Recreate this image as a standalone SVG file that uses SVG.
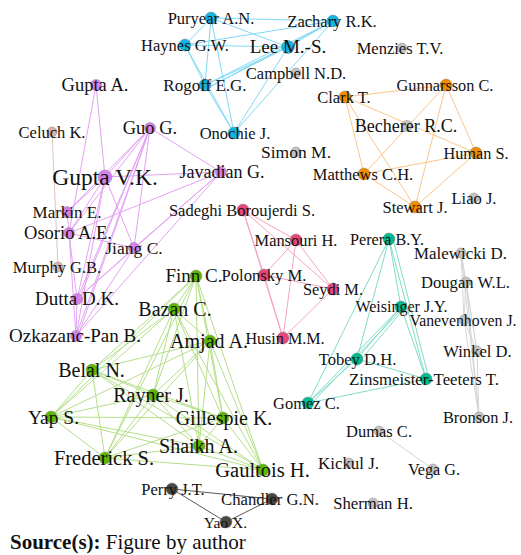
<svg xmlns="http://www.w3.org/2000/svg" width="521" height="555" viewBox="0 0 521 555">
<style>
text{font-family:"Liberation Serif","Times New Roman","DejaVu Serif",serif;fill:#111;text-anchor:middle}
.n circle{stroke:#8a8a8a;stroke-width:0.5}
.blue circle{fill:#12b4e3}.orange circle{fill:#f28a00}.purple circle{fill:#d680ea}.brown circle{fill:#d9b3ab}
.red circle{fill:#e8477e}.green circle{fill:#5cb800}.teal circle{fill:#00b990}.gray circle{fill:#c4c4c4}.dark circle{fill:#4b4742}
#edges line{stroke-width:1}
.eb line{stroke:#80d9f4}.eo line{stroke:#fcc68a}.ep line{stroke:#e3a2f3}.ebr line{stroke:#dcc4bf}.er line{stroke:#f6a3bf}
.eg line{stroke:#b4df88}.et line{stroke:#80dcc8}.egr line{stroke:#d6d6d6}.ed line{stroke:#5a5a5a}
</style>
<rect width="521" height="555" fill="#fff"/>
<g id="edges">
<g class="eb">
<line x1="211" y1="18" x2="185" y2="45"/><line x1="211" y1="18" x2="288" y2="47"/><line x1="211" y1="18" x2="333" y2="21"/><line x1="211" y1="18" x2="205" y2="85"/><line x1="211" y1="18" x2="234" y2="133"/>
<line x1="185" y1="45" x2="288" y2="47"/><line x1="185" y1="45" x2="333" y2="21"/><line x1="185" y1="45" x2="205" y2="85"/><line x1="185" y1="45" x2="234" y2="133"/>
<line x1="288" y1="47" x2="333" y2="21"/><line x1="288" y1="47" x2="205" y2="85"/><line x1="288" y1="47" x2="234" y2="133"/>
<line x1="333" y1="21" x2="205" y2="85"/><line x1="333" y1="21" x2="234" y2="133"/><line x1="205" y1="85" x2="234" y2="133"/>
<line x1="288" y1="47" x2="207" y2="88"/><line x1="333" y1="21" x2="208" y2="88"/>
</g>
<g class="eo">
<line x1="345" y1="97" x2="446" y2="85"/><line x1="345" y1="97" x2="476" y2="153"/><line x1="345" y1="97" x2="364" y2="174"/><line x1="345" y1="97" x2="415" y2="207"/>
<line x1="446" y1="85" x2="476" y2="153"/><line x1="446" y1="85" x2="364" y2="174"/><line x1="446" y1="85" x2="415" y2="207"/>
<line x1="476" y1="153" x2="364" y2="174"/><line x1="476" y1="153" x2="415" y2="207"/><line x1="364" y1="174" x2="415" y2="207"/>
</g>
<g class="ep">
<line x1="96" y1="85" x2="105" y2="177"/><line x1="96" y1="85" x2="69" y2="233"/>
<line x1="105" y1="177" x2="150" y2="128"/><line x1="105" y1="177" x2="221" y2="172"/><line x1="105" y1="177" x2="67" y2="212"/><line x1="105" y1="177" x2="69" y2="233"/><line x1="105" y1="177" x2="134" y2="248"/><line x1="105" y1="177" x2="77" y2="299"/><line x1="105" y1="177" x2="76" y2="336"/>
<line x1="150" y1="128" x2="221" y2="172"/><line x1="150" y1="128" x2="67" y2="212"/><line x1="150" y1="128" x2="69" y2="233"/><line x1="150" y1="128" x2="134" y2="248"/><line x1="150" y1="128" x2="77" y2="299"/><line x1="150" y1="128" x2="76" y2="336"/>
<line x1="221" y1="172" x2="69" y2="233"/><line x1="221" y1="172" x2="134" y2="248"/><line x1="221" y1="172" x2="77" y2="299"/><line x1="221" y1="172" x2="76" y2="336"/>
<line x1="134" y1="248" x2="69" y2="233"/><line x1="134" y1="248" x2="77" y2="299"/><line x1="134" y1="248" x2="76" y2="336"/>
<line x1="69" y1="233" x2="77" y2="299"/><line x1="69" y1="233" x2="76" y2="336"/><line x1="77" y1="299" x2="76" y2="336"/><line x1="67" y1="212" x2="69" y2="233"/>
<line x1="150" y1="128" x2="79" y2="299"/><line x1="150" y1="128" x2="78" y2="336"/>
</g>
<g class="ebr"><line x1="52" y1="132" x2="58" y2="267"/></g>
<g class="er">
<line x1="243" y1="210" x2="296" y2="240"/><line x1="243" y1="210" x2="264" y2="275"/><line x1="243" y1="210" x2="333" y2="289"/><line x1="243" y1="210" x2="283" y2="338"/>
<line x1="296" y1="240" x2="264" y2="275"/><line x1="296" y1="240" x2="333" y2="289"/><line x1="296" y1="240" x2="283" y2="338"/>
<line x1="264" y1="275" x2="333" y2="289"/><line x1="264" y1="275" x2="283" y2="338"/><line x1="333" y1="289" x2="283" y2="338"/>
</g>
<g class="et">
<line x1="389" y1="239" x2="401" y2="307"/><line x1="389" y1="239" x2="357" y2="359"/><line x1="389" y1="239" x2="426" y2="379"/><line x1="389" y1="239" x2="308" y2="403"/>
<line x1="401" y1="307" x2="357" y2="359"/><line x1="401" y1="307" x2="426" y2="379"/><line x1="401" y1="307" x2="308" y2="403"/>
<line x1="357" y1="359" x2="426" y2="379"/><line x1="357" y1="359" x2="308" y2="403"/><line x1="426" y1="379" x2="308" y2="403"/>
<line x1="393" y1="239" x2="429" y2="379"/><line x1="403" y1="310" x2="359" y2="362"/><line x1="401" y1="310" x2="310" y2="405"/>
</g>
<g class="eg">
<line x1="196" y1="276" x2="174" y2="309"/><line x1="196" y1="276" x2="210" y2="341"/><line x1="196" y1="276" x2="92" y2="370"/><line x1="196" y1="276" x2="153" y2="395"/><line x1="196" y1="276" x2="51" y2="417"/><line x1="196" y1="276" x2="223" y2="418"/><line x1="196" y1="276" x2="199" y2="446"/><line x1="196" y1="276" x2="105" y2="458"/><line x1="196" y1="276" x2="263" y2="470"/>
<line x1="174" y1="309" x2="210" y2="341"/><line x1="174" y1="309" x2="92" y2="370"/><line x1="174" y1="309" x2="153" y2="395"/><line x1="174" y1="309" x2="51" y2="417"/><line x1="174" y1="309" x2="223" y2="418"/><line x1="174" y1="309" x2="199" y2="446"/><line x1="174" y1="309" x2="105" y2="458"/><line x1="174" y1="309" x2="263" y2="470"/>
<line x1="210" y1="341" x2="92" y2="370"/><line x1="210" y1="341" x2="153" y2="395"/><line x1="210" y1="341" x2="51" y2="417"/><line x1="210" y1="341" x2="223" y2="418"/><line x1="210" y1="341" x2="199" y2="446"/><line x1="210" y1="341" x2="105" y2="458"/><line x1="210" y1="341" x2="263" y2="470"/>
<line x1="92" y1="370" x2="153" y2="395"/><line x1="92" y1="370" x2="51" y2="417"/><line x1="92" y1="370" x2="223" y2="418"/><line x1="92" y1="370" x2="199" y2="446"/><line x1="92" y1="370" x2="105" y2="458"/><line x1="92" y1="370" x2="263" y2="470"/>
<line x1="153" y1="395" x2="51" y2="417"/><line x1="153" y1="395" x2="223" y2="418"/><line x1="153" y1="395" x2="199" y2="446"/><line x1="153" y1="395" x2="105" y2="458"/><line x1="153" y1="395" x2="263" y2="470"/>
<line x1="51" y1="417" x2="223" y2="418"/><line x1="51" y1="417" x2="199" y2="446"/><line x1="51" y1="417" x2="105" y2="458"/><line x1="51" y1="417" x2="263" y2="470"/>
<line x1="223" y1="418" x2="199" y2="446"/><line x1="223" y1="418" x2="105" y2="458"/><line x1="223" y1="418" x2="263" y2="470"/>
<line x1="199" y1="446" x2="105" y2="458"/><line x1="199" y1="446" x2="263" y2="470"/><line x1="105" y1="458" x2="263" y2="470"/>
</g>
<g class="egr">
<line x1="461" y1="253" x2="466" y2="282"/><line x1="461" y1="253" x2="464" y2="320"/><line x1="461" y1="253" x2="477" y2="351"/><line x1="461" y1="253" x2="479" y2="417"/>
<line x1="466" y1="282" x2="464" y2="320"/><line x1="466" y1="282" x2="477" y2="351"/><line x1="466" y1="282" x2="479" y2="417"/>
<line x1="464" y1="320" x2="477" y2="351"/><line x1="464" y1="320" x2="479" y2="417"/><line x1="477" y1="351" x2="479" y2="417"/>
<line x1="379" y1="431" x2="433" y2="469"/>
</g>
<g class="ed">
<line x1="172" y1="489" x2="272" y2="499"/><line x1="172" y1="489" x2="226" y2="522"/><line x1="272" y1="499" x2="226" y2="522"/>
</g>
</g>
<g id="n-puryear" class="n blue"><circle cx="211" cy="18" r="6"/><text x="211" y="23.5" font-size="16.5">Puryear A.N.</text></g>
<g id="n-haynes" class="n blue"><circle cx="185" cy="45" r="6"/><text x="185" y="50.5" font-size="16.5">Haynes G.W.</text></g>
<g id="n-lee" class="n blue"><circle cx="288" cy="47" r="6.5"/><text x="288" y="53" font-size="19">Lee M.-S.</text></g>
<g id="n-zachary" class="n blue"><circle cx="333" cy="21" r="6"/><text x="332" y="26.5" font-size="16.5">Zachary R.K.</text></g>
<g id="n-rogoff" class="n blue"><circle cx="205" cy="85" r="6"/><text x="205" y="90.5" font-size="17">Rogoff E.G.</text></g>
<g id="n-onochie" class="n blue"><circle cx="234" cy="133" r="6"/><text x="235" y="138.5" font-size="16.5">Onochie J.</text></g>
<g id="n-campbell" class="n gray"><circle cx="296" cy="73" r="5"/><text x="296" y="78.5" font-size="16.5">Campbell N.D.</text></g>
<g id="n-menzies" class="n gray"><circle cx="402" cy="48" r="5"/><text x="400" y="53.5" font-size="16.5">Menzies T.V.</text></g>
<g id="n-clark" class="n orange"><circle cx="345" cy="97" r="6"/><text x="344" y="102.5" font-size="16.5">Clark T.</text></g>
<g id="n-gunnarsson" class="n orange"><circle cx="446" cy="85" r="6"/><text x="445" y="90.5" font-size="16.3">Gunnarsson C.</text></g>
<g id="n-becherer" class="n gray"><circle cx="407" cy="126" r="5.5"/><text x="406" y="132" font-size="18">Becherer R.C.</text></g>
<g id="n-human" class="n orange"><circle cx="476" cy="153" r="6"/><text x="476" y="158.5" font-size="16.3">Human S.</text></g>
<g id="n-matthews" class="n orange"><circle cx="364" cy="174" r="6"/><text x="363" y="179.5" font-size="16.5">Matthews C.H.</text></g>
<g id="n-stewart" class="n orange"><circle cx="415" cy="207" r="6"/><text x="415" y="212.5" font-size="16.5">Stewart J.</text></g>
<g id="n-liao" class="n gray"><circle cx="474" cy="198" r="5"/><text x="474" y="203.5" font-size="16.5">Liao J.</text></g>
<g id="n-simon" class="n gray"><circle cx="296" cy="152" r="5"/><text x="296" y="158" font-size="17.5">Simon M.</text></g>
<g id="n-guptaa" class="n purple"><circle cx="96" cy="85" r="5.5"/><text x="95" y="91" font-size="18.5">Gupta A.</text></g>
<g id="n-celuch" class="n brown"><circle cx="52" cy="132" r="5"/><text x="52" y="137.5" font-size="16.5">Celuch K.</text></g>
<g id="n-guo" class="n purple"><circle cx="150" cy="128" r="5.5"/><text x="150" y="134" font-size="18.5">Guo G.</text></g>
<g id="n-guptavk" class="n purple"><circle cx="105" cy="177" r="7"/><text x="105" y="184.5" font-size="23.5">Gupta V.K.</text></g>
<g id="n-javadian" class="n purple"><circle cx="221" cy="172" r="5.5"/><text x="222" y="178" font-size="18">Javadian G.</text></g>
<g id="n-markin" class="n purple"><circle cx="67" cy="212" r="5.5"/><text x="67" y="217.5" font-size="17">Markin E.</text></g>
<g id="n-osorio" class="n purple"><circle cx="69" cy="233" r="5.5"/><text x="68" y="239" font-size="18.5">Osorio A.E.</text></g>
<g id="n-jiang" class="n purple"><circle cx="134" cy="248" r="5.5"/><text x="134" y="254" font-size="17.5">Jiang C.</text></g>
<g id="n-murphy" class="n brown"><circle cx="58" cy="267" r="5"/><text x="57" y="272.5" font-size="16.5">Murphy G.B.</text></g>
<g id="n-dutta" class="n purple"><circle cx="77" cy="299" r="5.5"/><text x="77" y="305" font-size="19">Dutta D.K.</text></g>
<g id="n-ozkazanc" class="n purple"><circle cx="76" cy="336" r="5.5"/><text x="75" y="342" font-size="19">Ozkazanc-Pan B.</text></g>
<g id="n-sadeghi" class="n red"><circle cx="243" cy="210" r="6"/><text x="242" y="215.5" font-size="16.5">Sadeghi Boroujerdi S.</text></g>
<g id="n-mansouri" class="n red"><circle cx="296" cy="240" r="6"/><text x="296" y="245.5" font-size="16.4">Mansouri H.</text></g>
<g id="n-polonsky" class="n red"><circle cx="264" cy="275" r="6"/><text x="264" y="280.5" font-size="16.6">Polonsky M.</text></g>
<g id="n-seydi" class="n red"><circle cx="333" cy="289" r="6"/><text x="333" y="294.5" font-size="16.4">Seydi M.</text></g>
<g id="n-husin" class="n red"><circle cx="283" cy="338" r="6"/><text x="285" y="343.5" font-size="16.1">Husin M.M.</text></g>
<g id="n-finn" class="n green"><circle cx="196" cy="276" r="6"/><text x="194" y="282" font-size="19">Finn C.</text></g>
<g id="n-bazan" class="n green"><circle cx="174" cy="309" r="6"/><text x="175" y="315.5" font-size="20">Bazan C.</text></g>
<g id="n-amjad" class="n green"><circle cx="210" cy="341" r="6"/><text x="209" y="347.5" font-size="20">Amjad A.</text></g>
<g id="n-belal" class="n green"><circle cx="92" cy="370" r="6"/><text x="91.5" y="376.5" font-size="20">Belal N.</text></g>
<g id="n-rayner" class="n green"><circle cx="153" cy="395" r="6"/><text x="151" y="401.5" font-size="20">Rayner J.</text></g>
<g id="n-yap" class="n green"><circle cx="51" cy="417" r="6"/><text x="53.5" y="423.5" font-size="19.5">Yap S.</text></g>
<g id="n-gillespie" class="n green"><circle cx="223" cy="418" r="6"/><text x="224" y="424.5" font-size="20">Gillespie K.</text></g>
<g id="n-shaikh" class="n green"><circle cx="199" cy="446" r="6"/><text x="198.5" y="452.5" font-size="20">Shaikh A.</text></g>
<g id="n-frederick" class="n green"><circle cx="105" cy="458" r="6"/><text x="104" y="464.5" font-size="20.5">Frederick S.</text></g>
<g id="n-gaultois" class="n green"><circle cx="263" cy="470" r="6"/><text x="262.5" y="476.5" font-size="20.5">Gaultois H.</text></g>
<g id="n-perera" class="n teal"><circle cx="389" cy="239" r="6"/><text x="387" y="244.5" font-size="16.2">Perera B.Y.</text></g>
<g id="n-weisinger" class="n teal"><circle cx="401" cy="307" r="6"/><text x="401.5" y="312" font-size="16">Weisinger J.Y.</text></g>
<g id="n-tobey" class="n teal"><circle cx="357" cy="359" r="6"/><text x="357.5" y="364.5" font-size="16.6">Tobey D.H.</text></g>
<g id="n-zinsmeister" class="n teal"><circle cx="426" cy="379" r="6"/><text x="424" y="384.5" font-size="16.8">Zinsmeister-Teeters T.</text></g>
<g id="n-gomez" class="n teal"><circle cx="308" cy="403" r="6"/><text x="306.5" y="408.5" font-size="16.5">Gomez C.</text></g>
<g id="n-malewicki" class="n gray"><circle cx="461" cy="253" r="5"/><text x="460.5" y="258.5" font-size="16.9">Malewicki D.</text></g>
<g id="n-dougan" class="n gray"><circle cx="466" cy="282" r="5"/><text x="465.5" y="287.5" font-size="16.6">Dougan W.L.</text></g>
<g id="n-vanevenhoven" class="n gray"><circle cx="464" cy="320" r="5"/><text x="463" y="326" font-size="15.8">Vanevenhoven J.</text></g>
<g id="n-winkel" class="n gray"><circle cx="477" cy="351" r="5"/><text x="477.5" y="356.5" font-size="16.6">Winkel D.</text></g>
<g id="n-bronson" class="n gray"><circle cx="479" cy="417" r="5"/><text x="478" y="422.5" font-size="16.4">Bronson J.</text></g>
<g id="n-dumas" class="n gray"><circle cx="379" cy="431" r="5"/><text x="379" y="436.5" font-size="16.5">Dumas C.</text></g>
<g id="n-kickul" class="n gray"><circle cx="349" cy="463" r="5"/><text x="348.5" y="468.5" font-size="16.9">Kickul J.</text></g>
<g id="n-vega" class="n gray"><circle cx="433" cy="469" r="5"/><text x="434" y="474.5" font-size="16.2">Vega G.</text></g>
<g id="n-sherman" class="n gray"><circle cx="373" cy="503" r="5"/><text x="373" y="508.5" font-size="16.7">Sherman H.</text></g>
<g id="n-perry" class="n dark"><circle cx="172" cy="489" r="6"/><text x="173" y="494.5" font-size="16.5">Perry J.T.</text></g>
<g id="n-chandler" class="n dark"><circle cx="272" cy="499" r="6"/><text x="270" y="504.5" font-size="16.7">Chandler G.N.</text></g>
<g id="n-yao" class="n dark"><circle cx="226" cy="522" r="6"/><text x="225.5" y="527.5" font-size="15.6">Yao X.</text></g>
<text x="10" y="549" font-size="21" style="text-anchor:start"><tspan font-weight="bold">Source(s):</tspan> Figure by author</text>
</svg>
